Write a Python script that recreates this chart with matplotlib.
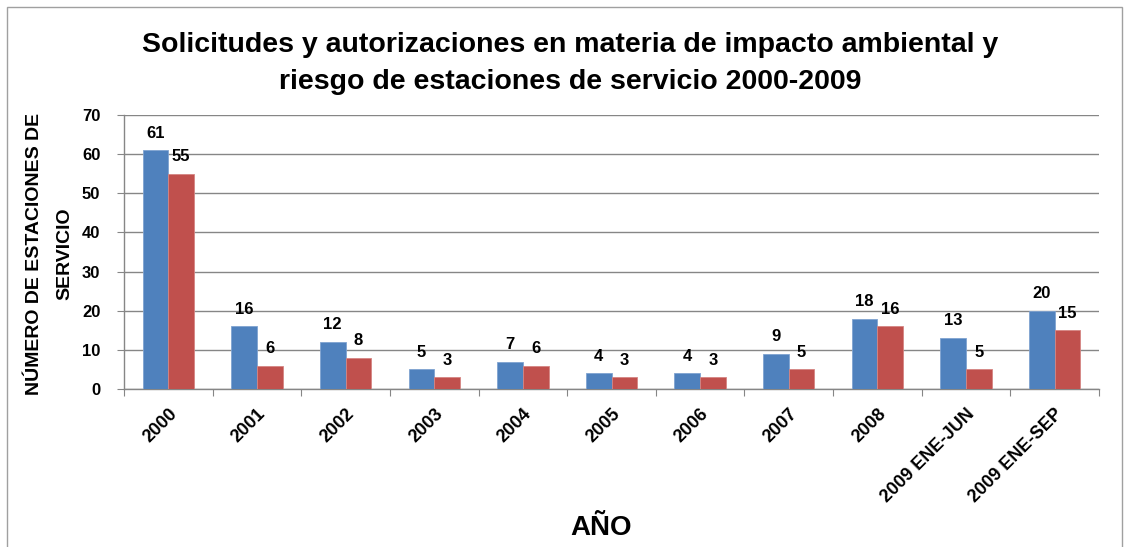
import matplotlib
matplotlib.use("Agg")
import matplotlib.pyplot as plt
from matplotlib.patches import Rectangle
import numpy as np

categories = ["2000", "2001", "2002", "2003", "2004", "2005", "2006", "2007",
              "2008", "2009 ENE-JUN", "2009 ENE-SEP"]
solicitudes = [61, 16, 12, 5, 7, 4, 4, 9, 18, 13, 20]
autorizaciones = [55, 6, 8, 3, 6, 3, 3, 5, 16, 5, 15]
y_ticks = [0, 10, 20, 30, 40, 50, 60, 70]

plt.rcParams["font.family"] = ["Liberation Sans", "DejaVu Sans"]

W, H = 1129, 547
fig = plt.figure(figsize=(W / 100, H / 100), dpi=100)
ax = fig.add_axes([124 / W, 1 - 389 / H, (1099 - 124) / W, (389 - 115) / H])

x = np.arange(len(categories))
bw = 0.29
blue = "#4F81BD"
red = "#C0504D"
b1 = ax.bar(x - bw / 2, solicitudes, bw, color=blue, edgecolor="#7FA3D1", linewidth=0.6, zorder=3)
b2 = ax.bar(x + bw / 2, autorizaciones, bw, color=red, edgecolor="#D58583", linewidth=0.6, zorder=3)

for bars, vals in ((b1, solicitudes), (b2, autorizaciones)):
    for rect, v in zip(bars, vals):
        ax.annotate(str(v), (rect.get_x() + rect.get_width() / 2, v),
                    xytext=(0, 7), textcoords="offset points",
                    ha="center", va="bottom", fontsize=12, fontweight="bold")

ax.set_xlim(-0.5, len(categories) - 0.5)
ax.set_ylim(0, 70)
ax.set_yticks(y_ticks)
ax.set_yticklabels([str(t) for t in y_ticks], fontsize=12, fontweight="bold")
ax.yaxis.grid(True, color="#868686", linewidth=1.0, zorder=0)
ax.set_axisbelow(True)

# category labels sit between the boundary ticks
ax.set_xticks(np.arange(-0.5, len(categories) + 0.5, 1), minor=False)
ax.set_xticklabels([])
ax.set_xticks(x, minor=True)
ax.set_xticklabels(categories, minor=True, rotation=45, ha="right",
                   rotation_mode="anchor", fontsize=13, fontweight="bold")
ax.tick_params(axis="x", which="minor", length=0, pad=12)
ax.tick_params(axis="x", which="major", length=5, color="#868686", direction="out")
ax.tick_params(axis="y", length=5, color="#868686", direction="out", pad=12)

for s in ("top", "right"):
    ax.spines[s].set_visible(False)
for s in ("left", "bottom"):
    ax.spines[s].set_color("#868686")
    ax.spines[s].set_linewidth(1.0)

fig.text(570 / W, 1 - 45 / H, "Solicitudes y autorizaciones en materia de impacto ambiental y",
         ha="center", va="center", fontsize=20.5, fontweight="bold")
fig.text(570 / W, 1 - 82 / H, "riesgo de estaciones de servicio 2000-2009",
         ha="center", va="center", fontsize=20.5, fontweight="bold")

fig.text(35 / W, 1 - 254 / H, "NÚMERO DE ESTACIONES DE", rotation=90,
         ha="center", va="center", fontsize=14, fontweight="bold")
fig.text(65 / W, 1 - 254 / H, "SERVICIO", rotation=90,
         ha="center", va="center", fontsize=14, fontweight="bold")

fig.text(601 / W, 1 - 528 / H, "AÑO", ha="center", va="center",
         fontsize=20, fontweight="bold")

fig.patches.append(Rectangle((7 / W, -0.05), (1122 - 7) / W, 1.05 - 7 / H,
                             transform=fig.transFigure, fill=False,
                             edgecolor="#A0A0A0", linewidth=1.0))

fig.savefig("out.png", dpi=100)
